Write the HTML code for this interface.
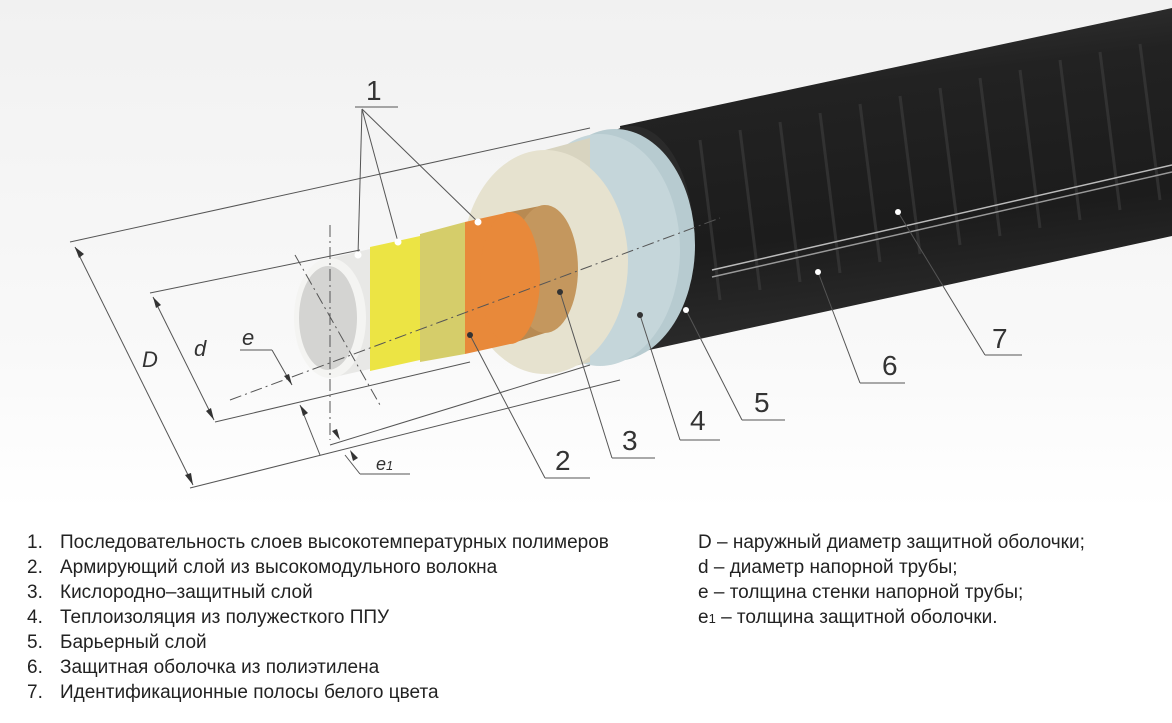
<!DOCTYPE html>
<html><head><meta charset="utf-8"><style>
html,body{margin:0;padding:0;background:#fff;}
.wrap{position:relative;width:1172px;height:723px;overflow:hidden;background:#fff;}
svg{position:absolute;left:0;top:0;}
.t{position:absolute;font-family:"Liberation Sans",sans-serif;font-size:19px;color:#222;white-space:nowrap;}
</style></head><body><div class="wrap">
<svg width="1172" height="723" viewBox="0 0 1172 723">
<defs>
<linearGradient id="bg" x1="0" y1="0" x2="0" y2="1"><stop offset="0" stop-color="#f1f1f1"/><stop offset="0.7" stop-color="#f9f9f9"/><stop offset="1" stop-color="#fff"/></linearGradient>
<linearGradient id="blk" x1="0" y1="0" x2="0.2" y2="1"><stop offset="0" stop-color="#3a3a3a"/><stop offset="0.3" stop-color="#222"/><stop offset="0.7" stop-color="#1c1c1c"/><stop offset="1" stop-color="#2c2c2c"/></linearGradient>
</defs>
<rect width="1172" height="510" fill="url(#bg)"/>
<polygon points="620,126 1172,8 1172,236 640,352" fill="url(#blk)"/>
<g stroke="#444" stroke-width="3" opacity="0.5">
<line x1="700" y1="140" x2="720" y2="300"/><line x1="740" y1="130" x2="760" y2="290"/><line x1="780" y1="122" x2="800" y2="282"/><line x1="820" y1="113" x2="840" y2="273"/><line x1="860" y1="104" x2="880" y2="262"/><line x1="900" y1="96" x2="920" y2="254"/><line x1="940" y1="88" x2="960" y2="245"/><line x1="980" y1="78" x2="1000" y2="236"/><line x1="1020" y1="70" x2="1040" y2="228"/><line x1="1060" y1="60" x2="1080" y2="220"/><line x1="1100" y1="52" x2="1120" y2="210"/><line x1="1140" y1="44" x2="1160" y2="200"/>
</g>
<line x1="712" y1="270" x2="1172" y2="165" stroke="#bbb" stroke-width="1.5"/>
<line x1="712" y1="277" x2="1172" y2="172" stroke="#999" stroke-width="1.5"/>
<ellipse cx="632" cy="240" rx="62" ry="114" fill="#2a2a2a"/>
<ellipse cx="615" cy="245" rx="80" ry="116" fill="#b7cbd0"/>
<ellipse cx="600" cy="250" rx="80" ry="116" fill="#c5d6da"/>
<polygon points="545,150 590,138 590,362 545,374" fill="#d8d4c0"/>
<ellipse cx="545" cy="262" rx="83" ry="112" fill="#e6e2cf"/>
<polygon points="510,212 545,205 545,333 510,344" fill="#b88a52"/>
<ellipse cx="545" cy="269" rx="33" ry="64" fill="#c4975e"/>
<polygon points="465,222 510,212 510,344 465,354" fill="#e8893a"/>
<ellipse cx="510" cy="278" rx="30" ry="66" fill="#e8893a"/>
<polygon points="420,234 465,222 465,354 420,362" fill="#d5cd6a"/>
<polygon points="370,247 420,236 420,360 370,371" fill="#ece444"/>
<polygon points="330,258 370,249 370,369 330,378" fill="#e8e8e6"/>
<ellipse cx="330" cy="318" rx="36" ry="60" fill="#f4f4f2"/>
<ellipse cx="328" cy="318" rx="29" ry="52" fill="#d4d4d2"/>
<g stroke="#555" stroke-width="1" stroke-dasharray="12,4,2,4" fill="none">
<line x1="230" y1="400" x2="720" y2="218"/>
<line x1="330" y1="225" x2="330" y2="440"/>
<line x1="295" y1="255" x2="380" y2="405"/>
</g>
<g stroke="#555" stroke-width="1" fill="none">
<line x1="70" y1="242" x2="590" y2="128"/>
<line x1="190" y1="488" x2="620" y2="380"/>
<line x1="150" y1="293" x2="360" y2="250"/>
<line x1="215" y1="422" x2="470" y2="362"/>
<line x1="75" y1="247" x2="193" y2="485"/>
<line x1="153" y1="297" x2="214" y2="420"/>
<line x1="240" y1="350" x2="272" y2="350"/>
<line x1="272" y1="350" x2="292" y2="385"/>
<line x1="300" y1="405" x2="320" y2="455"/>
<line x1="330" y1="445" x2="590" y2="365"/>
<line x1="345" y1="455" x2="360" y2="474"/>
<line x1="360" y1="474" x2="410" y2="474"/>
<line x1="355" y1="107" x2="398" y2="107"/>
<line x1="362" y1="109" x2="358" y2="255"/><line x1="362" y1="109" x2="398" y2="242"/><line x1="362" y1="109" x2="478" y2="222"/>
<line x1="470" y1="335" x2="545" y2="478"/><line x1="545" y1="478" x2="590" y2="478"/>
<line x1="560" y1="292" x2="612" y2="458"/><line x1="612" y1="458" x2="655" y2="458"/>
<line x1="640" y1="315" x2="680" y2="440"/><line x1="680" y1="440" x2="720" y2="440"/>
<line x1="686" y1="310" x2="742" y2="420"/><line x1="742" y1="420" x2="785" y2="420"/>
<line x1="818" y1="272" x2="860" y2="383"/><line x1="860" y1="383" x2="905" y2="383"/>
<line x1="898" y1="212" x2="985" y2="355"/><line x1="985" y1="355" x2="1022" y2="355"/>
</g>
<g fill="#333"><circle cx="358" cy="255" r="3.5" fill="#fff"/><circle cx="398" cy="242" r="3.5" fill="#fff"/><circle cx="478" cy="222" r="3.5" fill="#fff"/>
<circle cx="470" cy="335" r="3"/><circle cx="560" cy="292" r="3"/><circle cx="640" cy="315" r="3"/><circle cx="686" cy="310" r="3" fill="#fff"/><circle cx="818" cy="272" r="3" fill="#fff"/><circle cx="898" cy="212" r="3" fill="#fff"/>
<polygon points="75,247 79,258 84,254"/><polygon points="193,485 185,475 191,473"/>
<polygon points="153,297 156,308 161,305"/><polygon points="214,420 206,411 211,408"/>
<polygon points="292,385 284,376 289,374"/><polygon points="300,405 303,416 308,413"/>
<polygon points="340,440 332,431 337,429"/><polygon points="350,450 353,461 358,458"/></g>
<g font-family="Liberation Sans,sans-serif" font-size="28" fill="#333">
<text x="366" y="100">1</text><text x="555" y="470">2</text><text x="622" y="450">3</text><text x="690" y="430">4</text><text x="754" y="412">5</text><text x="882" y="375">6</text><text x="992" y="348">7</text>
</g>
<g font-family="Liberation Sans,sans-serif" font-size="22" font-style="italic" fill="#333">
<text x="142" y="367">D</text><text x="194" y="356">d</text><text x="242" y="345">e</text><text x="376" y="470" font-size="18">e<tspan font-size="13">1</tspan></text>
</g>
</svg>
<div class="t" style="left:27px;top:532px">1.</div><div class="t" style="left:60px;top:532px">Последовательность слоев высокотемпературных полимеров</div>
<div class="t" style="left:27px;top:557px">2.</div><div class="t" style="left:60px;top:557px">Армирующий слой из высокомодульного волокна</div>
<div class="t" style="left:27px;top:582px">3.</div><div class="t" style="left:60px;top:582px">Кислородно–защитный слой</div>
<div class="t" style="left:27px;top:607px">4.</div><div class="t" style="left:60px;top:607px">Теплоизоляция из полужесткого ППУ</div>
<div class="t" style="left:27px;top:632px">5.</div><div class="t" style="left:60px;top:632px">Барьерный слой</div>
<div class="t" style="left:27px;top:657px">6.</div><div class="t" style="left:60px;top:657px">Защитная оболочка из полиэтилена</div>
<div class="t" style="left:27px;top:682px">7.</div><div class="t" style="left:60px;top:682px">Идентификационные полосы белого цвета</div>
<div class="t" style="left:698px;top:532px">D – наружный диаметр защитной оболочки;</div>
<div class="t" style="left:698px;top:557px">d – диаметр напорной трубы;</div>
<div class="t" style="left:698px;top:582px">e – толщина стенки напорной трубы;</div>
<div class="t" style="left:698px;top:607px">e<span style="font-size:13px">1</span> – толщина защитной оболочки.</div>
</div></body></html>
